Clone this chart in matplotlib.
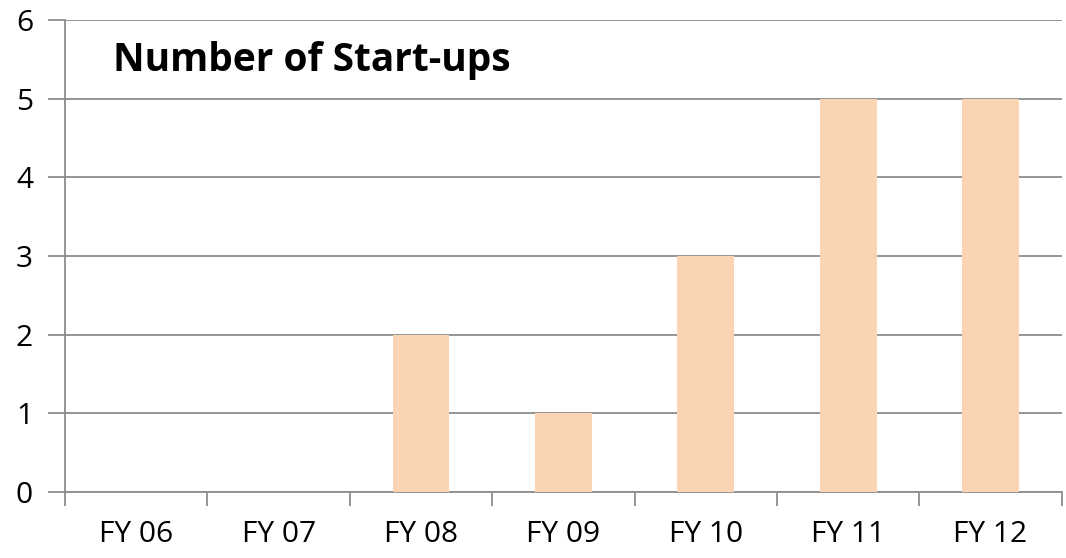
import matplotlib.pyplot as plt
import numpy as np

years = ["FY 06", "FY 07", "FY 08", "FY 09", "FY 10", "FY 11", "FY 12"]
startups = [0, 0, 2, 1, 3, 5, 5]

plt.rcParams['font.family'] = ['Open Sans', 'DejaVu Sans']

fig = plt.figure(figsize=(10.66, 5.58), dpi=100)
ax = fig.add_axes([0.061, 0.118, 0.935, 0.846])

x = np.arange(len(years))
ax.bar(x, startups, width=0.4, color="#FBD4B4", zorder=3)

ax.set_xlim(-0.5, len(years) - 0.5)
ax.set_ylim(0, 6)
ax.set_yticks(range(7))
ax.yaxis.grid(True, color="#8c8c8c", linewidth=1.3, zorder=0)

ax.set_xticks(x)
ax.set_xticklabels(years)
ax.set_xticks(np.arange(-0.5, len(years)), minor=True)
ax.tick_params(axis="x", which="major", length=0, pad=20, labelsize=21.5)
ax.tick_params(axis="x", which="minor", length=10, width=1.3, color="#8c8c8c")
ax.tick_params(axis="y", length=12, width=1.3, color="#8c8c8c", pad=11, labelsize=21.5)

for s in ["top", "right"]:
    ax.spines[s].set_visible(False)
for s in ["left", "bottom"]:
    ax.spines[s].set_color("#8c8c8c")
    ax.spines[s].set_linewidth(1.3)

ax.text(0.048, 0.915, "Number of Start-ups", transform=ax.transAxes,
        fontsize=28, fontweight="bold", va="center", ha="left")

fig.savefig("out.png", dpi=100)
